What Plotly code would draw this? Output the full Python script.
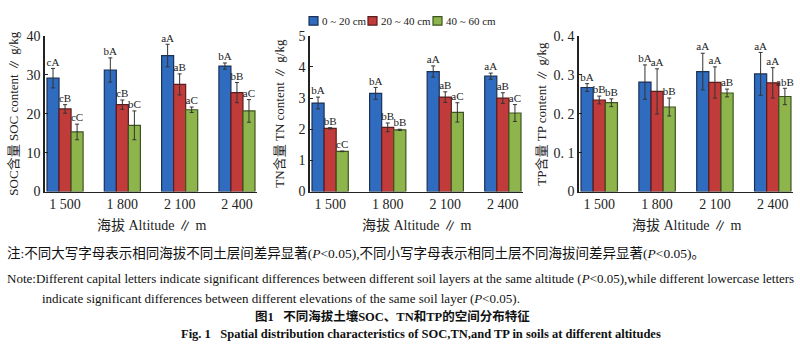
import plotly.graph_objects as go

altitudes = ["1 500", "1 800", "2 100", "2 400"]
layers = ["0 ~ 20 cm", "20 ~ 40 cm", "40 ~ 60 cm"]

soc_vals = [[29.1, 31.2, 34.9, 32.2], [21.2, 22.3, 27.5, 25.4], [15.3, 17.0, 21.0, 20.7]]
soc_err = [[2.5, 3.1, 2.9, 0.8], [1.1, 1.2, 2.7, 2.6], [2.0, 3.7, 0.7, 2.9]]
soc_lab = [["cA", "bA", "aA", "bA"], ["cB", "cB", "aB", "bB"], ["cC", "bC", "aC", "aC"]]

tn_vals = [[2.84, 3.15, 3.85, 3.70], [2.03, 2.06, 3.03, 3.00], [1.29, 1.98, 2.54, 2.52]]
tn_err = [[0.19, 0.19, 0.18, 0.10], [0.02, 0.14, 0.17, 0.17], [0.01, 0.02, 0.31, 0.27]]
tn_lab = [["bA", "bA", "aA", "aA"], ["bB", "bB", "aB", "aB"], ["cC", "bB", "aC", "aC"]]

tp_vals = [[0.267, 0.281, 0.308, 0.302], [0.235, 0.257, 0.280, 0.279], [0.228, 0.217, 0.253, 0.244]]
tp_err = [[0.010, 0.044, 0.047, 0.055], [0.010, 0.058, 0.040, 0.039], [0.010, 0.023, 0.010, 0.021]]
tp_lab = [["bA", "bA", "aA", "aA"], ["bB", "aA", "aA", "aA"], ["bB", "bB", "aB", "abB"]]

soc_ticks = ["0", "10", "20", "30", "40"]
tn_ticks = ["0", "1", "2", "3", "4", "5"]
tp_ticks = ["0", "0. 1", "0. 2", "0. 3", "0. 4"]

fills = ["#2F6BBE", "#C23B3B", "#8DB54B"]
edges = ["#1A3158", "#5A1C1C", "#3E5420"]

SERIF = "Liberation Serif, Noto Sans CJK SC"
W, H = 800, 344
bw = 0.21
offsets = [-bw, 0.0, bw]
DY = 6  # vertical correction for text annotations

panels = [
    dict(vals=soc_vals, err=soc_err, lab=soc_lab, ticks=soc_ticks, ymax=40,
         x0=45, x1=257, ytitle="SOC含量 SOC content ∥ g/kg", ytx=14),
    dict(vals=tn_vals, err=tn_err, lab=tn_lab, ticks=tn_ticks, ymax=5,
         x0=310, x1=523, ytitle="TN含量 TN content ∥ g/kg", ytx=280),
    dict(vals=tp_vals, err=tp_err, lab=tp_lab, ticks=tp_ticks, ymax=0.4,
         x0=579, x1=793, ytitle="TP含量 TP content ∥ g/kg", ytx=542),
]

ytop, ybot = 30, 193
ydom = [1 - ybot / H, 1 - ytop / H]

fig = go.Figure()
annotations = []
shapes = []
layout_axes = {}

for p_i, p in enumerate(panels):
    sfx = "" if p_i == 0 else str(p_i + 1)
    xa, ya = "x" + sfx, "y" + sfx
    for j in range(3):
        xs = [i + offsets[j] for i in range(len(altitudes))]
        fig.add_trace(go.Bar(
            x=xs, y=p["vals"][j], width=bw, name=layers[j],
            marker=dict(color=fills[j], line=dict(color=edges[j], width=1.2)),
            error_y=dict(type="data", array=p["err"][j], color="#333333", thickness=1, width=2),
            xaxis=xa, yaxis=ya, showlegend=False,
        ))
        fig.add_trace(go.Scatter(
            x=xs, y=[v + e for v, e in zip(p["vals"][j], p["err"][j])],
            text=p["lab"][j], mode="text", textposition="top center",
            textfont=dict(family=SERIF, size=11, color="#222"),
            xaxis=xa, yaxis=ya, showlegend=False, hoverinfo="skip", cliponaxis=False,
        ))
    n = len(p["ticks"])
    step = p["ymax"] / (n - 1)
    layout_axes["xaxis" + sfx] = dict(
        domain=[p["x0"] / W, p["x1"] / W], range=[-0.35, 3.35], anchor=ya,
        tickvals=list(range(len(altitudes))), ticktext=altitudes,
        showline=True, linecolor="#222", linewidth=1.2, ticks="", showgrid=False,
        zeroline=False, tickfont=dict(family=SERIF, size=14, color="#222"),
    )
    layout_axes["yaxis" + sfx] = dict(
        domain=ydom, range=[0, p["ymax"]], anchor=xa,
        tickvals=[k * step for k in range(n)], ticktext=p["ticks"],
        showline=True, linecolor="#222", linewidth=1.5, ticks="inside", ticklen=3,
        tickcolor="#222", showgrid=False, zeroline=False,
        tickfont=dict(family=SERIF, size=14, color="#222"),
    )
    annotations.append(dict(
        x=p["ytx"] / W, y=1 - (ytop + ybot) / 2 / H, xref="paper", yref="paper",
        text=p["ytitle"], textangle=-90, showarrow=False,
        font=dict(family=SERIF, size=13, color="#222"), xanchor="center", yanchor="middle",
    ))
    annotations.append(dict(
        x=(p["x0"] + p["x1"]) / 2 / W, y=1 - (222 + DY) / H, xref="paper", yref="paper",
        text="海拔 Altitude ∥ m", showarrow=False,
        font=dict(family=SERIF, size=14, color="#222"), xanchor="center", yanchor="middle",
    ))

# legend (drawn as swatches + text)
leg_x = [309, 368, 433]
for j in range(3):
    shapes.append(dict(type="rect", xref="paper", yref="paper",
                       x0=leg_x[j] / W, x1=(leg_x[j] + 9) / W,
                       y0=1 - 19 / H, y1=1 - 10 / H,
                       fillcolor=fills[j], line=dict(color=edges[j], width=1.2)))
    annotations.append(dict(
        x=(leg_x[j] + 11) / W, y=1 - 14.5 / H, xref="paper", yref="paper",
        text=layers[j], showarrow=False, xanchor="left", yanchor="middle",
        font=dict(family=SERIF, size=11, color="#222"),
    ))

notes = [
    ("注:不同大写字母表示相同海拔不同土层间差异显著(<i>P</i><0.05),不同小写字母表示相同土层不同海拔间差异显著(<i>P</i><0.05)。", 5, 252, "left", 13.5),
    ("Note:Different capital letters indicate significant differences between different soil layers at the same altitude (<i>P</i><0.05),while different lowercase letters", 5, 278, "left", 13),
    ("indicate significant differences between different elevations of the same soil layer (<i>P</i><0.05).", 40, 299, "left", 13),
    ("<b>图1   不同海拔土壤SOC、TN和TP的空间分布特征</b>", 392, 318, "center", 12.5),
    ("<b>Fig. 1   Spatial distribution characteristics of SOC,TN,and TP in soils at different altitudes</b>", 421, 336, "center", 12.5),
]
for txt, x, y, anc, sz in notes:
    annotations.append(dict(
        x=x / W, y=1 - (y + DY) / H, xref="paper", yref="paper", text=txt, showarrow=False,
        font=dict(family=SERIF, size=sz, color="#111"), xanchor=anc, yanchor="middle",
    ))

fig.update_layout(
    width=W, height=H, margin=dict(l=0, r=0, t=0, b=0),
    paper_bgcolor="white", plot_bgcolor="white",
    barmode="overlay", annotations=annotations, shapes=shapes, showlegend=False,
    **layout_axes,
)

fig.write_html("out.html")
